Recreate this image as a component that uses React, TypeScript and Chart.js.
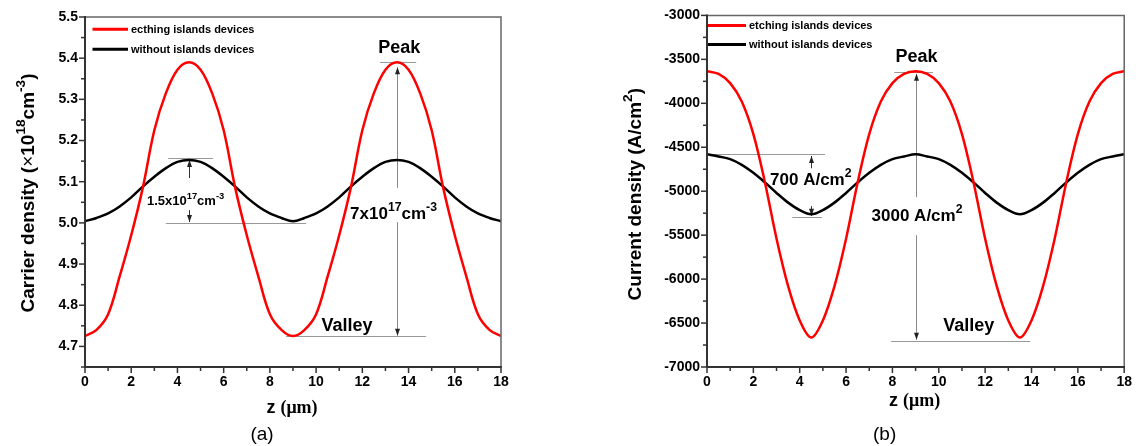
import React, { useEffect, useRef } from 'react';
import { Chart, registerables } from 'chart.js';
Chart.register(...registerables);

// ---------- data ----------
const Z = [0, 0.5, 1, 1.5, 2, 2.5, 3, 3.5, 4, 4.5, 5, 5.5, 6, 6.5, 7, 7.5, 8, 8.5, 9, 9.5, 10, 10.5, 11, 11.5, 12, 12.5, 13, 13.5, 14, 14.5, 15, 15.5, 16, 16.5, 17, 17.5, 18];

const CARRIER_ETCHING = [4.725, 4.740, 4.778, 4.870, 4.970, 5.085, 5.225, 5.315, 5.372, 5.390, 5.372, 5.315, 5.225, 5.085, 4.970, 4.870, 4.778, 4.740, 4.725, 4.740, 4.778, 4.870, 4.970, 5.085, 5.225, 5.315, 5.372, 5.390, 5.372, 5.315, 5.225, 5.085, 4.970, 4.870, 4.778, 4.740, 4.725];
const CARRIER_WITHOUT = [5.004, 5.012, 5.023, 5.040, 5.062, 5.088, 5.112, 5.133, 5.148, 5.153, 5.148, 5.133, 5.112, 5.088, 5.062, 5.040, 5.023, 5.012, 5.004, 5.012, 5.023, 5.040, 5.062, 5.088, 5.112, 5.133, 5.148, 5.153, 5.148, 5.133, 5.112, 5.088, 5.062, 5.040, 5.023, 5.012, 5.004];

const CURRENT_ETCHING = [-3635, -3665, -3770, -3980, -4350, -4900, -5540, -6080, -6470, -6665, -6470, -6080, -5540, -4900, -4350, -3980, -3770, -3665, -3635, -3665, -3770, -3980, -4350, -4900, -5540, -6080, -6470, -6665, -6470, -6080, -5540, -4900, -4350, -3980, -3770, -3665, -3635];
const CURRENT_WITHOUT = [-4580, -4605, -4635, -4700, -4790, -4900, -5020, -5130, -5215, -5262, -5215, -5130, -5020, -4900, -4790, -4700, -4635, -4605, -4580, -4605, -4635, -4700, -4790, -4900, -5020, -5130, -5215, -5262, -5215, -5130, -5020, -4900, -4790, -4700, -4635, -4605, -4580];

const X_TICKS = [0, 2, 4, 6, 8, 10, 12, 14, 16, 18];
const X_MINOR = [1, 3, 5, 7, 9, 11, 13, 15, 17];
const CARRIER_TICKS = [4.7, 4.8, 4.9, 5.0, 5.1, 5.2, 5.3, 5.4, 5.5];
const CARRIER_MINOR = [4.65, 4.75, 4.85, 4.95, 5.05, 5.15, 5.25, 5.35, 5.45];
const CURRENT_TICKS = [-7000, -6500, -6000, -5500, -5000, -4500, -4000, -3500, -3000];
const CURRENT_MINOR = [-6750, -6250, -5750, -5250, -4750, -4250, -3750, -3250];

const LEFT_LABELS = ['ecthing islands devices', 'without islands devices'];
const RIGHT_LABELS = ['etching islands devices', 'without islands devices'];

// ---------- drawing helpers ----------
const SANS = '"Liberation Sans", Arial, sans-serif';
const SERIF = '"Liberation Serif", "Times New Roman", serif';

type Seg = { t: string; sup?: boolean; f?: string; w?: string };

function drawRich(ctx: CanvasRenderingContext2D, segs: Seg[], x: number, y: number, size: number, align: 'left' | 'center', weight = 'bold', family = SANS) {
  const pieces = segs.map((s) => {
    const sz = s.sup ? size * 0.72 : size;
    const font = `${s.w ?? weight} ${sz}px ${s.f ?? family}`;
    ctx.font = font;
    return { t: s.t, font, width: ctx.measureText(s.t).width, dy: s.sup ? -size * 0.48 : 0 };
  });
  const total = pieces.reduce((a, p) => a + p.width, 0);
  let cx = align === 'center' ? x - total / 2 : x;
  ctx.textAlign = 'left';
  ctx.textBaseline = 'alphabetic';
  ctx.fillStyle = '#000';
  for (const p of pieces) {
    ctx.font = p.font;
    ctx.fillText(p.t, cx, y + p.dy);
    cx += p.width;
  }
}

function arrowHead(ctx: CanvasRenderingContext2D, x: number, y: number, dir: 1 | -1) {
  ctx.beginPath();
  ctx.moveTo(x, y);
  ctx.lineTo(x - 2.5, y - dir * 7);
  ctx.lineTo(x + 2.5, y - dir * 7);
  ctx.closePath();
  ctx.fill();
}

type Spec = {
  red: number[];
  black: number[];
  labels: string[];
  yMin: number;
  yMax: number;
  yTicks: number[];
  yMinor: number[];
  yFmt: (v: number) => string;
  yWidth: number;
  padding: { left: number; right: number; top: number; bottom: number };
  yTitle: Seg[];
  yTitleX: number;
  yTitleDy: number;
  xTitleDy: number;
  panel: string;
  legend: { x0: number; x1: number; y1: number; y2: number };
  hlines: [number, number, number][];
  arrows: { z: number; from: number; to: number; color: string }[];
  texts: { z: number; v: number; align: 'left' | 'center'; size: number; segs: Seg[] }[];
};

const LEFT: Spec = {
  red: CARRIER_ETCHING,
  black: CARRIER_WITHOUT,
  labels: LEFT_LABELS,
  yMin: 4.65,
  yMax: 5.5,
  yTicks: CARRIER_TICKS,
  yMinor: CARRIER_MINOR,
  yFmt: (v) => v.toFixed(1),
  yWidth: 85,
  padding: { left: 0, right: 19, top: 17, bottom: 0 },
  yTitle: [{ t: 'Carrier density (' }, { t: '\u00d7', w: 'normal' }, { t: '10' }, { t: '18', sup: true }, { t: 'cm' }, { t: '-3', sup: true }, { t: ')' }],
  yTitleX: 27,
  yTitleDy: 1,
  xTitleDy: 46,
  panel: '(a)',
  legend: { x0: 7.5, x1: 43, y1: 12.3, y2: 32.3 },
  hlines: [
    [12.77, 14.33, 5.39],
    [8.7, 14.76, 4.725],
    [3.6, 5.54, 5.158],
    [3.5, 9.57, 5.0],
  ],
  arrows: [
    { z: 13.5, from: 5.085, to: 5.378, color: '#888' },
    { z: 13.5, from: 5.002, to: 4.726, color: '#888' },
    { z: 4.5, from: 5.109, to: 5.153, color: '#333' },
    { z: 4.5, from: 5.031, to: 5.002, color: '#333' },
  ],
  texts: [
    { z: 13.6, v: 5.413, align: 'center', size: 18, segs: [{ t: 'Peak' }] },
    { z: 11.34, v: 4.7375, align: 'center', size: 18, segs: [{ t: 'Valley' }] },
    { z: 11.47, v: 5.0083, align: 'left', size: 17, segs: [{ t: '7x10' }, { t: '17', sup: true }, { t: 'cm' }, { t: '-3', sup: true }] },
    { z: 2.68, v: 5.0435, align: 'left', size: 13, segs: [{ t: '1.5x10' }, { t: '17', sup: true }, { t: 'cm' }, { t: '-3', sup: true }] },
  ],
};

const RIGHT: Spec = {
  red: CURRENT_ETCHING,
  black: CURRENT_WITHOUT,
  labels: RIGHT_LABELS,
  yMin: -7000,
  yMax: -3000,
  yTicks: CURRENT_TICKS,
  yMinor: CURRENT_MINOR,
  yFmt: (v) => String(v),
  yWidth: 107,
  padding: { left: 0, right: 11, top: 15, bottom: 0 },
  yTitle: [{ t: 'Current density (A/cm' }, { t: '2', sup: true }, { t: ')' }],
  yTitleX: 34,
  yTitleDy: 3,
  xTitleDy: 39,
  panel: '(b)',
  legend: { x0: 1, x1: 39, y1: 10, y2: 29 },
  hlines: [
    [8.08, 9.75, -3640],
    [7.95, 13.95, -6700],
    [0, 5.09, -4580],
    [3.68, 4.96, -5290],
  ],
  arrows: [
    { z: 9, from: -5068, to: -3665, color: '#888' },
    { z: 9, from: -5500, to: -6690, color: '#888' },
    { z: 4.5, from: -4739, to: -4600, color: '#333' },
    { z: 4.5, from: -5170, to: -5280, color: '#333' },
  ],
  texts: [
    { z: 9.04, v: -3534, align: 'center', size: 18, segs: [{ t: 'Peak' }] },
    { z: 11.29, v: -6591, align: 'center', size: 18, segs: [{ t: 'Valley' }] },
    { z: 2.72, v: -4932, align: 'left', size: 17, segs: [{ t: '700 A/cm' }, { t: '2', sup: true }] },
    { z: 7.1, v: -5341, align: 'left', size: 17, segs: [{ t: '3000 A/cm' }, { t: '2', sup: true }] },
  ],
};

function makePlugin(spec: Spec) {
  return {
    id: 'deco',
    beforeDatasetsDraw(chart: any) {
      const ctx: CanvasRenderingContext2D = chart.ctx;
      const xs = chart.scales.x;
      const ys = chart.scales.y;
      ctx.save();
      ctx.lineWidth = 1;
      ctx.strokeStyle = '#999';
      for (const [z1, z2, v] of spec.hlines) {
        const y = Math.round(ys.getPixelForValue(v)) + 0.5;
        ctx.beginPath();
        ctx.moveTo(xs.getPixelForValue(z1), y);
        ctx.lineTo(xs.getPixelForValue(z2), y);
        ctx.stroke();
      }
      for (const a of spec.arrows) {
        const x = Math.round(xs.getPixelForValue(a.z)) + 0.5;
        const y0 = ys.getPixelForValue(a.from);
        const y1 = ys.getPixelForValue(a.to);
        ctx.strokeStyle = a.color;
        ctx.lineWidth = 1;
        ctx.beginPath();
        ctx.moveTo(x, y0);
        ctx.lineTo(x, y1);
        ctx.stroke();
        ctx.fillStyle = '#222';
        arrowHead(ctx, x, y1, y1 < y0 ? -1 : 1);
      }
      ctx.restore();
    },
    afterDraw(chart: any) {
      const ctx: CanvasRenderingContext2D = chart.ctx;
      const { left, right, top, bottom } = chart.chartArea;
      const xs = chart.scales.x;
      const ys = chart.scales.y;
      ctx.save();
      ctx.strokeStyle = '#666';
      ctx.lineWidth = 1.5;
      ctx.beginPath();
      ctx.moveTo(left, top);
      ctx.lineTo(right, top);
      ctx.lineTo(right, bottom);
      ctx.stroke();
      ctx.strokeStyle = '#333';
      ctx.lineWidth = 2;
      ctx.beginPath();
      ctx.moveTo(left, top - 1);
      ctx.lineTo(left, bottom);
      ctx.lineTo(right + 0.75, bottom);
      ctx.stroke();
      ctx.lineWidth = 1.5;
      const tick = (x1: number, y1: number, x2: number, y2: number) => {
        ctx.beginPath();
        ctx.moveTo(x1, y1);
        ctx.lineTo(x2, y2);
        ctx.stroke();
      };
      for (const v of X_TICKS) { const x = xs.getPixelForValue(v); tick(x, bottom, x, bottom + 6); }
      for (const v of X_MINOR) { const x = xs.getPixelForValue(v); tick(x, bottom, x, bottom + 4); }
      for (const v of spec.yTicks) { const y = ys.getPixelForValue(v); tick(left, y, left - 6, y); }
      for (const v of spec.yMinor) { const y = ys.getPixelForValue(v); tick(left, y, left - 4, y); }
      const ds = chart.data.datasets;
      const lg = spec.legend;
      [lg.y1, lg.y2].forEach((dy, i) => {
        const y = top + dy;
        ctx.strokeStyle = ds[i].borderColor;
        ctx.lineWidth = 3;
        tick(left + lg.x0, y, left + lg.x1, y);
        ctx.fillStyle = '#000';
        ctx.font = `bold 11px ${SANS}`;
        ctx.textAlign = 'left';
        ctx.textBaseline = 'middle';
        ctx.fillText(ds[i].label, left + lg.x1 + 3, y + 0.5);
      });
      for (const t of spec.texts) {
        drawRich(ctx, t.segs, xs.getPixelForValue(t.z), ys.getPixelForValue(t.v), t.size, t.align);
      }
      const cx = (left + right) / 2;
      drawRich(ctx, [{ t: 'z ' }, { t: '(\u03bcm)', f: SERIF }], cx - 1, bottom + spec.xTitleDy, 18, 'center');
      drawRich(ctx, [{ t: spec.panel }], cx - 31, 440, 19, 'center', 'normal');
      ctx.save();
      ctx.translate(spec.yTitleX, (top + bottom) / 2 + spec.yTitleDy);
      ctx.rotate(-Math.PI / 2);
      drawRich(ctx, spec.yTitle, 0, 6.8, 19, 'center');
      ctx.restore();
      ctx.restore();
    },
  };
}

function makeConfig(spec: Spec): any {
  const tickFont = { family: SANS, size: 14, weight: 'bold' as const };
  return {
    type: 'line',
    data: {
      datasets: [
        { label: spec.labels[0], data: Z.map((z, i) => ({ x: z, y: spec.red[i] })), borderColor: '#ff0000', borderWidth: 2.5, pointRadius: 0, tension: 0.35, fill: false },
        { label: spec.labels[1], data: Z.map((z, i) => ({ x: z, y: spec.black[i] })), borderColor: '#000000', borderWidth: 2.5, pointRadius: 0, tension: 0.35, fill: false },
      ],
    },
    options: {
      animation: false,
      responsive: false,
      devicePixelRatio: 1,
      layout: { padding: spec.padding },
      plugins: { legend: { display: false }, tooltip: { enabled: false } },
      scales: {
        x: {
          type: 'linear',
          min: 0,
          max: 18,
          afterBuildTicks: (s: any) => { s.ticks = X_TICKS.map((v) => ({ value: v })); },
          afterFit: (s: any) => { s.height = 79; },
          grid: { display: false, drawTicks: false, tickLength: 0 },
          border: { display: false },
          ticks: { font: tickFont, color: '#000', padding: 7, maxRotation: 0, autoSkip: false, callback: (v: any) => String(v) },
        },
        y: {
          type: 'linear',
          min: spec.yMin,
          max: spec.yMax,
          afterBuildTicks: (s: any) => { s.ticks = spec.yTicks.map((v) => ({ value: v })); },
          afterFit: (s: any) => { s.width = spec.yWidth; },
          grid: { display: false, drawTicks: false, tickLength: 0 },
          border: { display: false },
          ticks: { font: tickFont, color: '#000', padding: 7, autoSkip: false, callback: (v: any) => spec.yFmt(Number(v)) },
        },
      },
    },
    plugins: [makePlugin(spec)],
  };
}

export default function App() {
  const leftRef = useRef<HTMLCanvasElement>(null);
  const rightRef = useRef<HTMLCanvasElement>(null);
  useEffect(() => {
    const c1 = new Chart(leftRef.current as HTMLCanvasElement, makeConfig(LEFT));
    const c2 = new Chart(rightRef.current as HTMLCanvasElement, makeConfig(RIGHT));
    return () => {
      c1.destroy();
      c2.destroy();
    };
  }, []);
  return (
    <div style={{ position: 'fixed', left: 0, top: 0, width: 1139, height: 446, background: '#fff' }}>
      <canvas ref={leftRef} width={520} height={446} style={{ position: 'absolute', left: 0, top: 0 }} />
      <canvas ref={rightRef} width={539} height={446} style={{ position: 'absolute', left: 600, top: 0 }} />
    </div>
  );
}
